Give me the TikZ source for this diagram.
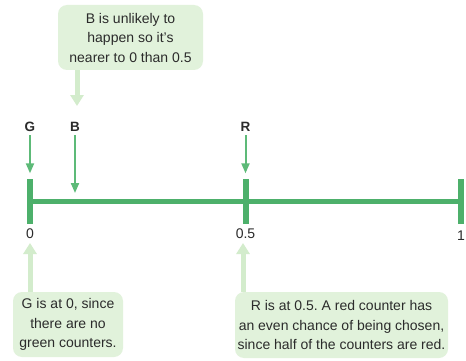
\documentclass[tikz,border=0pt]{standalone}
\usepackage{fontspec}
\setmainfont{Liberation Sans}
\usetikzlibrary{arrows.meta,positioning}
\definecolor{Leaf}{HTML}{4DB06B}
\definecolor{Sprout}{HTML}{5DBA78}
\definecolor{Mint}{HTML}{E1F2DB}
\definecolor{PaleMint}{HTML}{D3ECCC}
\definecolor{Ink}{HTML}{2B2B2B}
\tikzset{
  note/.style={
    rounded corners=9pt, fill=Mint, align=center, text=Ink,
    font=\fontsize{14}{19.5}\selectfont, inner sep=0pt
  },
  tick/.style={
    fill=Leaf, minimum width=6pt, minimum height=45pt, inner sep=0pt
  },
  ball/.style={font=\fontsize{13.5}{15}\selectfont\bfseries, text=Ink},
  num/.style={font=\fontsize{14}{16}\selectfont, text=Ink},
  axis/.style={line width=5pt, draw=Leaf},
  flow/.style={-{Triangle[length=10pt,width=8pt]}, line width=2pt, draw=Sprout},
  callout/.style={-{Triangle[length=11pt,width=13pt]}, line width=5pt, draw=PaleMint}
}

\begin{document}
\begin{tikzpicture}[x=1pt,y=-1pt]
    \useasboundingbox[fill=white] (0,0) rectangle (466,361);
    \node[note,minimum width=145pt,minimum height=65pt] (bnote) at (130.5,37.5) {B is unlikely to\\happen so it's\\nearer to 0 than 0.5};
    \node[note,minimum width=110pt,minimum height=65pt] (gnote) at (68,324.5) {G is at 0, since\\there are no\\green counters.};
    \node[note,minimum width=213pt,minimum height=66pt] (rnote) at (341.5,325) {R is at 0.5.\ A red counter has\\an even chance of being chosen,\\since half of the counters are red.};
    \node[tick] (t0) at (30,201) {};
    \node[tick] (thalf) at (245.5,201) {};
    \node[tick] (t1) at (461,201) {};
    \draw[axis] (t0) -- (t1);
    \node[ball] (g) at (30,127) {G};
    \node[ball] (b) at (75,127) {B};
    \node[ball] (r) at (245.5,127) {R};
    \coordinate (btip) at (75,193);
    \draw[flow,shorten >=5pt] (g) -- (t0);
    \draw[flow] (b) -- (btip);
    \draw[flow,shorten >=5pt] (r) -- (thalf);
    \node[num] (n0) at (30,234) {0};
    \node[num] (nhalf) at (245.5,234) {0.5};
    \node[num] (n1) at (461,236) {1};
    \coordinate (bpoint) at (77,106);
    \coordinate (gpoint) at (30,243);
    \coordinate (rpoint) at (243,243);
    \draw[callout] (bnote.south -| bpoint) -- (bpoint);
    \draw[callout] (gnote.north -| gpoint) -- (gpoint);
    \draw[callout] (rnote.north -| rpoint) -- (rpoint);
  \end{tikzpicture}
\end{document}
